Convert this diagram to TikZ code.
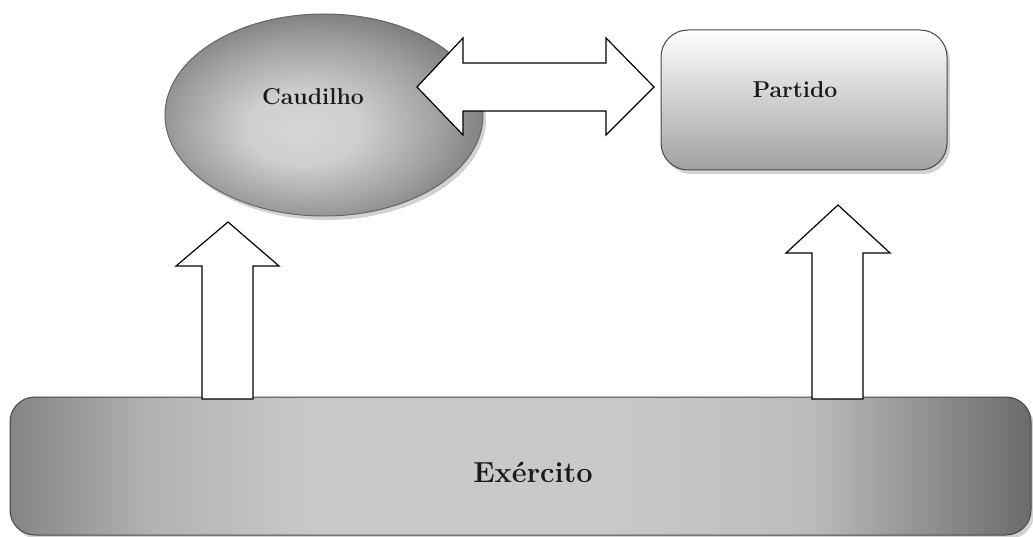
\documentclass[tikz,border=0pt]{standalone}
\usepackage{fontspec}
\usetikzlibrary{shapes.geometric,shadows}
\definecolor{c0}{gray}{0.84}
\definecolor{c1}{gray}{0.81}
\definecolor{c2}{gray}{0.62}
\definecolor{c3}{gray}{0.47}
\pgfdeclareradialshading{caudshade}{\pgfpoint{-4bp}{-4bp}}{color(0bp)=(c0); color(9bp)=(c1); color(21bp)=(c2); color(29bp)=(c3); color(50bp)=(c3)}
\definecolor{e1}{gray}{0.52}
\definecolor{e2}{gray}{0.70}
\definecolor{e3}{gray}{0.79}
\definecolor{e4}{gray}{0.74}
\definecolor{e5}{gray}{0.42}
\pgfdeclarehorizontalshading{exershade}{100bp}{color(0bp)=(e1); color(25bp)=(e1); color(32bp)=(e2); color(40bp)=(e3); color(54bp)=(e3); color(64bp)=(e4); color(75bp)=(e5); color(100bp)=(e5)}
\definecolor{p2}{gray}{0.63}
\begin{document}
\begin{tikzpicture}[x=1pt,y=-1pt,
  blockarrow/.style={draw=black, fill=white, line width=1.2pt, line join=miter},
  txt/.style={text=black!90},
  shadowed/.style={drop shadow={shadow xshift=3pt, shadow yshift=-4pt, fill=gray!70, opacity=0.5}},
  boxline/.style={draw=gray!55!black, line width=1pt},
]
\useasboundingbox (0,0) rectangle (1033,537);

% Caudilho ellipse
\node[ellipse, draw=gray!80!black, line width=1pt, shadowed, minimum width=318pt, minimum height=202pt,
      shading=caudshade] (caud) at (324,115) {};
\node[txt, font=\bfseries\fontsize{23}{27}\selectfont] (caudt) at (313,97) {Caudilho};

% Partido rounded box
\node[rectangle, rounded corners=27pt, boxline, shadowed, minimum width=286pt, minimum height=140pt,
      top color=white, bottom color=p2] (part) at (804,100) {};
\node[txt, font=\bfseries\fontsize{23}{27}\selectfont] (partt) at (795,90) {Partido};

% Exercito box
\node[rectangle, rounded corners=25pt, boxline, shadowed, minimum width=1021pt, minimum height=138pt,
      shading=exershade] (exer) at (520.5,466) {};
\node[txt, font=\bfseries\fontsize{29}{33}\selectfont] (exert) at (533,472) {Exército};

% double arrow Caudilho <-> Partido
\draw[blockarrow] (417,87) -- (463,38) -- (463,63) -- (606,63) -- (606,38) -- (654,87)
  -- (606,135) -- (606,111) -- (463,111) -- (463,135) -- cycle;

% up arrow Exercito -> Caudilho
\draw[blockarrow] (202,399) -- (202,266) -- (176,266) -- (228,222) -- (279,266) -- (253,266) -- (253,399) -- cycle;

% up arrow Exercito -> Partido
\draw[blockarrow] (812,399) -- (812,253) -- (786,253) -- (838,205) -- (890,253) -- (863,253) -- (863,399) -- cycle;
\end{tikzpicture}
\end{document}
